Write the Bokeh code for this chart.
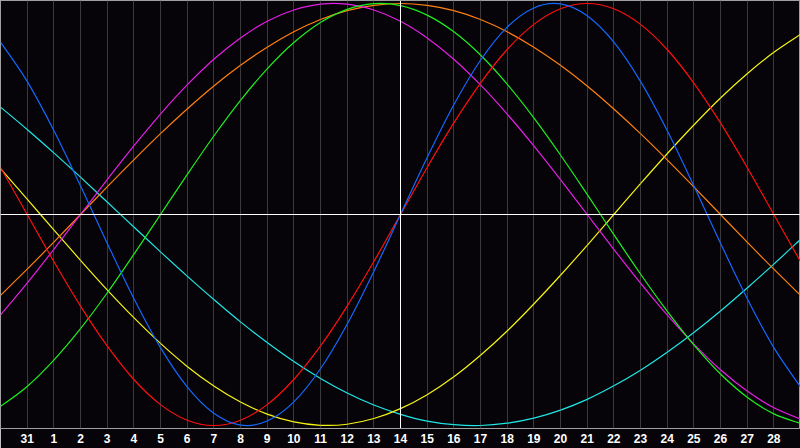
from bokeh.plotting import figure
from bokeh.models import Span, FixedTicker
from bokeh.embed import file_html
from bokeh.resources import INLINE

# day index along the chart (0 = left edge, 30 = right edge)
day_index = list(range(31))
tick_positions = list(range(1, 30))
tick_labels = [31, 1, 2, 3, 4, 5, 6, 7, 8, 9, 10, 11, 12, 13, 14, 15, 16, 17,
               18, 19, 20, 21, 22, 23, 24, 25, 26, 27, 28]
today_index = 15

physical = [0.817, 0.631, 0.398, 0.136, -0.136, -0.398, -0.631, -0.817, -0.942, -0.998,
            -0.979, -0.888, -0.731, -0.520, -0.270, 0.0, 0.270, 0.520, 0.731, 0.888,
            0.979, 0.998, 0.942, 0.817, 0.631, 0.398, 0.136, -0.136, -0.398, -0.631, -0.817]
emotional = [0.223, 0.0, -0.223, -0.434, -0.623, -0.782, -0.901, -0.975, -1.0, -0.975,
             -0.901, -0.782, -0.623, -0.434, -0.223, 0.0, 0.223, 0.434, 0.623, 0.782,
             0.901, 0.975, 1.0, 0.975, 0.901, 0.782, 0.623, 0.434, 0.223, 0.0, -0.223]
intellectual = [-0.91, -0.815, -0.69, -0.541, -0.372, -0.189, 0, 0.189, 0.372, 0.541, 0.69,
                0.815, 0.91, 0.972, 0.999, 0.99, 0.945, 0.866, 0.756, 0.618, 0.458, 0.282,
                0.095, -0.095, -0.282, -0.458, -0.618, -0.756, -0.866, -0.945, -0.99]
intuitive = [-0.476, -0.325, -0.165, 0, 0.165, 0.325, 0.476, 0.614, 0.736, 0.837, 0.916,
             0.969, 0.997, 0.997, 0.969, 0.916, 0.837, 0.736, 0.614, 0.476, 0.325, 0.165,
             0, -0.165, -0.325, -0.476, -0.614, -0.736, -0.837, -0.916, -0.969]
awareness = [-0.383, -0.259, -0.131, 0, 0.131, 0.259, 0.383, 0.5, 0.609, 0.707, 0.793,
             0.866, 0.924, 0.966, 0.991, 1, 0.991, 0.966, 0.924, 0.866, 0.793, 0.707,
             0.609, 0.5, 0.383, 0.259, 0.131, 0, -0.131, -0.259, -0.383]
aesthetic = [0.217, 0.073, -0.073, -0.217, -0.357, -0.489, -0.611, -0.72, -0.813, -0.889,
             -0.946, -0.983, -0.999, -0.994, -0.967, -0.92, -0.854, -0.769, -0.667, -0.552,
             -0.424, -0.288, -0.146, 0, 0.146, 0.288, 0.424, 0.552, 0.667, 0.769, 0.854]
spiritual = [0.509, 0.403, 0.292, 0.177, 0.059, -0.059, -0.177, -0.292, -0.403, -0.509,
             -0.607, -0.697, -0.777, -0.846, -0.903, -0.947, -0.979, -0.996, -1, -0.989,
             -0.965, -0.927, -0.876, -0.812, -0.738, -0.653, -0.559, -0.457, -0.348,
             -0.235, -0.118]

series = [
    (spiritual, "#20e6e6"),
    (aesthetic, "#f5f514"),
    (awareness, "#ff8010"),
    (intuitive, "#e61ee6"),
    (intellectual, "#1ef01e"),
    (emotional, "#ff1010"),
    (physical, "#1468ff"),
]

bg = "#060408"
p = figure(width=800, height=448, x_range=(0, 30), y_range=(-1.0142, 1.0142),
           output_backend="svg", toolbar_location=None, y_axis_location=None,
           min_border_left=0, min_border_right=0, min_border_top=0, min_border_bottom=20,
           background_fill_color=bg, border_fill_color=bg,
           outline_line_color="#a0a0a0", outline_line_width=1)

p.xaxis.ticker = FixedTicker(ticks=tick_positions)
p.xaxis.major_label_overrides = {t: str(l) for t, l in zip(tick_positions, tick_labels)}
p.xaxis.axis_line_color = None
p.xaxis.major_tick_line_color = None
p.xaxis.minor_tick_line_color = None
p.xaxis.major_tick_out = 0
p.xaxis.major_tick_in = 0
p.xaxis.major_label_standoff = 5
p.xaxis.major_label_text_color = "white"
p.xaxis.major_label_text_font = "Liberation Sans"
p.xaxis.major_label_text_font_style = "bold"
p.xaxis.major_label_text_font_size = "12px"

p.xgrid.ticker = FixedTicker(ticks=tick_positions)
p.xgrid.grid_line_color = "#3a3a3a"
p.xgrid.grid_line_width = 1
p.ygrid.visible = False

p.add_layout(Span(location=0, dimension="width", line_color="white", line_width=1))
p.add_layout(Span(location=today_index, dimension="height", line_color="white", line_width=1))


def smooth_segments(xs, ys):
    # cubic Bezier control points through the sampled points (Catmull-Rom)
    n = len(xs)
    seg = dict(x0=[], y0=[], x1=[], y1=[], cx0=[], cy0=[], cx1=[], cy1=[])
    for i in range(n - 1):
        i0, i3 = max(i - 1, 0), min(i + 2, n - 1)
        seg["x0"].append(xs[i]); seg["y0"].append(ys[i])
        seg["x1"].append(xs[i + 1]); seg["y1"].append(ys[i + 1])
        seg["cx0"].append(xs[i] + (xs[i + 1] - xs[i0]) / 6)
        seg["cy0"].append(ys[i] + (ys[i + 1] - ys[i0]) / 6)
        seg["cx1"].append(xs[i + 1] - (xs[i3] - xs[i]) / 6)
        seg["cy1"].append(ys[i + 1] - (ys[i3] - ys[i]) / 6)
    return seg


for vals, col in series:
    s = smooth_segments(day_index, vals)
    p.bezier(x0=s["x0"], y0=s["y0"], x1=s["x1"], y1=s["y1"],
             cx0=s["cx0"], cy0=s["cy0"], cx1=s["cx1"], cy1=s["cy1"],
             line_color=col, line_width=1.2)

open("out.html", "w").write(file_html(p, INLINE))
